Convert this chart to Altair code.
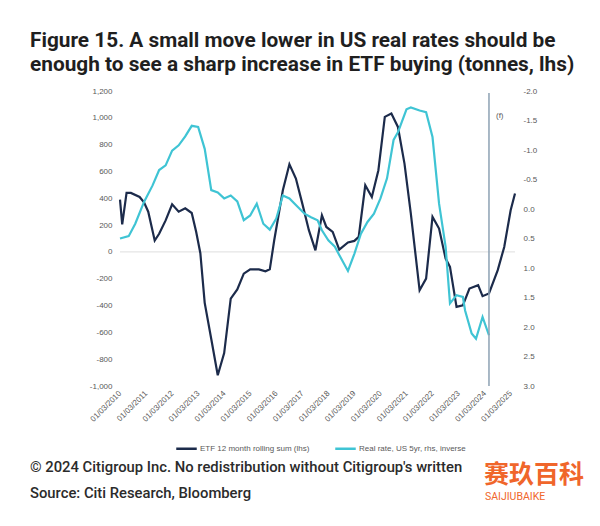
import altair as alt
import pandas as pd

# ETF 12 month rolling sum (tonnes, left axis)
etf_dates = ["2010-03","2010-04","2010-06","2010-08","2010-12","2011-02","2011-04","2011-07","2011-09","2011-12",
             "2012-03","2012-06","2012-09","2012-12","2013-02","2013-04","2013-06","2013-09","2013-12",
             "2014-03","2014-06","2014-09","2014-12","2015-03","2015-07","2015-10","2015-12",
             "2016-02","2016-06","2016-09","2016-12","2017-03","2017-06","2017-09","2017-12",
             "2018-02","2018-05","2018-08","2018-12","2019-03","2019-05","2019-08","2019-11",
             "2020-02","2020-05","2020-08","2020-11","2021-02","2021-05","2021-09","2021-12",
             "2022-03","2022-06","2022-09","2022-11","2023-02","2023-05","2023-08","2023-12",
             "2024-02","2024-05","2024-09","2024-12","2025-03","2025-05"]
etf_values = [390, 205, 440, 440, 410, 370, 300, 85, 135, 235,
              355, 300, 325, 290, 150, -10, -380, -650, -920,
              -755, -348, -280, -162, -130, -130, -144, -130,
              87, 460, 654, 547, 360, 162, 12, 273,
              186, 149, 17, 70, 82, 112, 497, 410,
              609, 1007, 1032, 932, 659, 286, -286, -199,
              261, 174, -50, -112, -410, -398, -273, -248,
              -330, -310, -136, 37, 311, 436]

# US 5yr real rate (%, right axis, inverted)
rate_dates = ["2010-03","2010-07","2010-10","2011-02","2011-06","2011-09","2011-12",
              "2012-03","2012-06","2012-09","2012-12","2013-03","2013-06","2013-09","2013-12",
              "2014-03","2014-06","2014-09","2014-12","2015-03","2015-06","2015-09","2015-12",
              "2016-03","2016-06","2016-09","2017-01","2017-04","2017-07","2017-10","2017-12",
              "2018-03","2018-06","2018-08","2018-12","2019-03","2019-06","2019-09","2019-12",
              "2020-03","2020-06","2020-09","2020-11","2021-03","2021-05","2021-09","2021-12",
              "2022-03","2022-06","2022-09","2022-11","2023-02","2023-05","2023-06","2023-09","2023-11",
              "2024-02","2024-05"]
rate_values = [0.50, 0.46, 0.25, -0.12, -0.40, -0.66, -0.74,
               -0.99, -1.08, -1.23, -1.41, -1.39, -1.02, -0.32, -0.28,
               -0.18, -0.23, -0.13, 0.19, 0.11, -0.09, 0.25, 0.35,
               0.16, -0.23, -0.18, -0.03, 0.08, 0.14, 0.19, 0.36,
               0.53, 0.64, 0.78, 1.05, 0.76, 0.42, 0.22, 0.08,
               -0.18, -0.52, -1.17, -1.30, -1.69, -1.72, -1.67, -1.64,
               -1.22, -0.09, 0.64, 1.60, 1.46, 1.49, 1.72, 2.11, 2.20,
               1.83, 2.14]

series_names = ["ETF 12 month rolling sum (lhs)", "Real rate, US 5yr, rhs, inverse"]
series_colors = ["#1c2b4b", "#3fc4d4"]
tick_years = list(range(2010, 2026))
left_ticks = list(range(-1000, 1201, 200))
right_ticks = [-2.0, -1.5, -1.0, -0.5, 0.0, 0.5, 1.0, 1.5, 2.0, 2.5, 3.0]
zero_line = [0]
forecast_start = ["2024-05"]

title_lines = ["Figure 15. A small move lower in US real rates should be",
               "enough to see a sharp increase in ETF buying (tonnes, lhs)"]
footer_lines = ["\u00a9 2024 Citigroup Inc. No redistribution without Citigroup's written",
                "Source: Citi Research, Bloomberg"]

etf_df = pd.DataFrame({"date": [d + "-01" for d in etf_dates], "value": etf_values,
                       "series": series_names[0]})
rate_df = pd.DataFrame({"date": [d + "-01" for d in rate_dates], "value": rate_values,
                        "series": series_names[1]})
zero_df = pd.DataFrame({"value": zero_line})
fc_df = pd.DataFrame({"date": [d + "-01" for d in forecast_start], "label": ["(f)"]})

W, H = 395, 295
AXIS_FONT = "Liberation Sans"
LABEL_COLOR = "#595959"

x_scale = alt.Scale(type="utc",
                    domain=[alt.DateTime(year=2010, month=3, date=1, utc=True),
                            alt.DateTime(year=2025, month=5, date=1, utc=True)])
x_axis = alt.Axis(values=[alt.DateTime(year=y, month=3, date=1, utc=True) for y in tick_years],
                  labelExpr="utcFormat(datum.value, '%d/%m/%Y')",
                  labelAngle=315, labelAlign="right", labelBaseline="middle",
                  labelPadding=6, labelOverlap=False, domain=False, ticks=False, grid=False, title=None,
                  labelFontSize=8, labelColor=LABEL_COLOR, labelFont=AXIS_FONT)
color_scale = alt.Scale(domain=series_names, range=series_colors)
legend = alt.Legend(orient="none", legendX=55, legendY=346, direction="horizontal", title=None,
                    symbolType="stroke", symbolSize=420, symbolStrokeWidth=2.5,
                    labelFontSize=8, labelColor=LABEL_COLOR, labelFont=AXIS_FONT,
                    columnPadding=20, labelOffset=2)

left_axis = alt.Axis(values=left_ticks, labelExpr="replace(format(datum.value, ',.0f'), '\u2212', '-')",
                     domain=False, ticks=False, grid=False, title=None, labelPadding=8,
                     labelOverlap=False, tickCount=12,
                     labelFontSize=8, labelColor=LABEL_COLOR, labelFont=AXIS_FONT)
left_scale = alt.Scale(domain=[-1000, 1200], nice=False)

zero_rule = alt.Chart(zero_df).mark_rule(color="#dedede", strokeWidth=1).encode(
    y=alt.Y("value:Q", scale=left_scale, axis=left_axis))
etf_line = alt.Chart(etf_df).mark_line(strokeWidth=2.2).encode(
    x=alt.X("date:T", scale=x_scale, axis=x_axis),
    y=alt.Y("value:Q", scale=left_scale, axis=left_axis),
    color=alt.Color("series:N", scale=color_scale, legend=legend),
)
left_layer = alt.layer(zero_rule, etf_line)

rate_line = alt.Chart(rate_df).mark_line(strokeWidth=2.2).encode(
    x=alt.X("date:T", scale=x_scale, axis=x_axis),
    y=alt.Y("value:Q", scale=alt.Scale(domain=[-2, 3], reverse=True, nice=False),
            axis=alt.Axis(orient="right", values=right_ticks,
                          labelExpr="replace(format(datum.value, '.1f'), '\u2212', '-')",
                          domain=False, ticks=False, grid=False, title=None, labelPadding=8,
                          labelOverlap=False,
                          labelFontSize=8, labelColor=LABEL_COLOR, labelFont=AXIS_FONT)),
    color=alt.Color("series:N", scale=color_scale, legend=legend),
)

vline = alt.Chart(fc_df).mark_rule(color="#8da1b3", strokeWidth=1.5).encode(
    x=alt.X("date:T", scale=x_scale, axis=x_axis),
    y=alt.value(2), y2=alt.value(H),
)
fc_text = alt.Chart(fc_df).mark_text(align="left", baseline="middle", dx=7, fontSize=8,
                                     color=LABEL_COLOR, font=AXIS_FONT).encode(
    x=alt.X("date:T", scale=x_scale, axis=x_axis), y=alt.value(25), text="label:N")

text_df = pd.DataFrame({"t1": [title_lines[0]], "t2": [title_lines[1]],
                        "f1": [footer_lines[0]], "f2": [footer_lines[1]],
                        "w1": ["赛玖百科"], "w2": ["SAIJIUBAIKE"]})
base_t = alt.Chart(text_df)
TITLE_SIZE = 20.8
title1 = base_t.mark_text(align="left", baseline="alphabetic", font="Roboto", fontSize=TITLE_SIZE,
                          fontWeight="bold", color="#1f1f1f").encode(
    x=alt.value(-90), y=alt.value(-44), text="t1:N")
title2 = base_t.mark_text(align="left", baseline="alphabetic", font="Roboto", fontSize=TITLE_SIZE,
                          fontWeight="bold", color="#1f1f1f").encode(
    x=alt.value(-90), y=alt.value(-20), text="t2:N")
foot1 = base_t.mark_text(align="left", baseline="alphabetic", font="Roboto", fontSize=14.8,
                         fontWeight=500, color="#2b2b2b").encode(
    x=alt.value(-90), y=alt.value(381), text="f1:N")
foot2 = base_t.mark_text(align="left", baseline="alphabetic", font="Roboto", fontSize=14.8,
                         fontWeight=500, color="#2b2b2b").encode(
    x=alt.value(-90), y=alt.value(407), text="f2:N")
wm1 = base_t.mark_text(align="left", baseline="alphabetic", font="Noto Sans CJK SC", fontSize=25,
                       fontWeight="bold", color="#f0662b").encode(
    x=alt.value(364), y=alt.value(392), text="w1:N")
wm2 = base_t.mark_text(align="left", baseline="alphabetic", font="Roboto", fontSize=10.5,
                       color="#f0662b").encode(
    x=alt.value(365), y=alt.value(409), text="w2:N")

chart = alt.layer(left_layer, rate_line, vline, fc_text,
                  title1, title2, foot1, foot2, wm1, wm2).resolve_scale(
    y="independent"
).properties(
    width=W, height=H,
    autosize=alt.AutoSizeParams(type="none"),
    padding={"left": 112, "top": 83, "right": 77, "bottom": 132},
    background="white",
).configure_view(stroke=None)

chart.save("out.html", embed_options={"renderer": "svg", "actions": False})
